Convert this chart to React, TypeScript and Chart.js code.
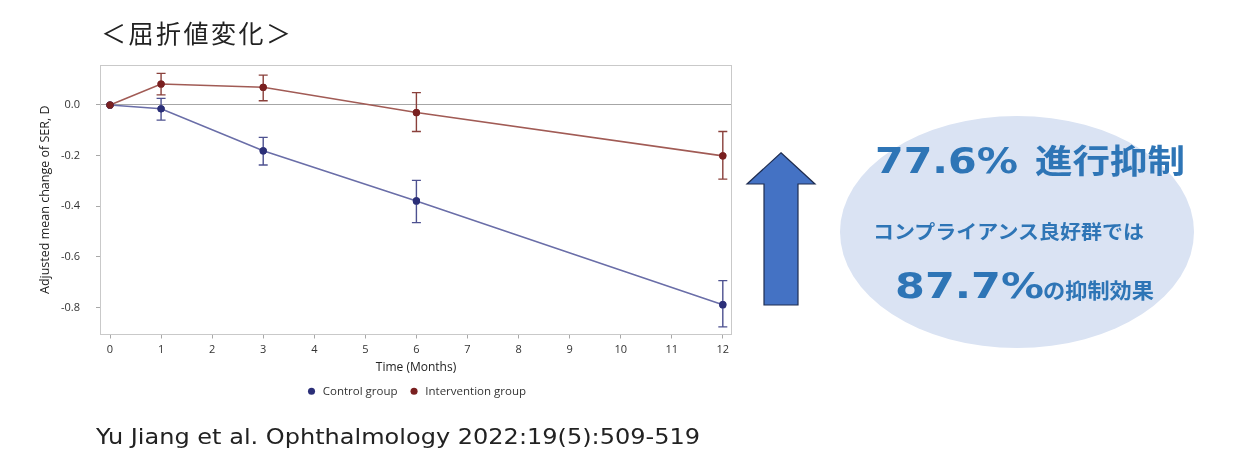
import React, { useEffect, useRef } from "react";
import { Chart, registerables } from "chart.js";

Chart.register(...registerables);

// ---- data ----
const months = [0, 1, 3, 6, 12];
const controlMean = [0, -0.015, -0.181, -0.379, -0.789];
const controlUpper = [null, 0.026, -0.128, -0.298, -0.694];
const controlLower = [null, -0.06, -0.237, -0.465, -0.877];
const interventionMean = [0, 0.083, 0.07, -0.03, -0.201];
const interventionUpper = [null, 0.125, 0.118, 0.049, -0.105];
const interventionLower = [null, 0.04, 0.017, -0.105, -0.293];
const seriesNames = ["Control group", "Intervention group"];
const xTicks = [0, 1, 2, 3, 4, 5, 6, 7, 8, 9, 10, 11, 12];
const yTicks = [-0.8, -0.6, -0.4, -0.2, 0];
const xTitle = "Time (Months)";
const yTitle = "Adjusted mean change of SER, D";
const titleText = "＜屈折値変化＞";
const citation = "Yu Jiang et al. Ophthalmology 2022:19(5):509-519";
const headlinePct = "77.6%";
const headlineText = "進行抑制";
const subline = "コンプライアンス良好群では";
const resultPct = "87.7%";
const resultText = "の抑制効果";

const errorUpper = [controlUpper, interventionUpper];
const errorLower = [controlLower, interventionLower];
const errorColors = ["#4d5190", "#8a403b"];

const errorBarPlugin = {
  id: "errorBars",
  beforeDatasetsDraw(chart: any) {
    const { ctx, chartArea } = chart;
    ctx.save();
    ctx.strokeStyle = "#c9c9c9";
    ctx.lineWidth = 1;
    ctx.strokeRect(
      Math.round(chartArea.left) + 0.5,
      Math.round(chartArea.top) + 0.5,
      Math.round(chartArea.right - chartArea.left) - 1,
      Math.round(chartArea.bottom - chartArea.top) - 1
    );
    ctx.restore();
  },
  afterDatasetsDraw(chart: any) {
    const { ctx } = chart;
    const xs = chart.scales.x;
    const ys = chart.scales.y;
    chart.data.datasets.forEach((_ds: any, di: number) => {
      const hi = errorUpper[di];
      const lo = errorLower[di];
      ctx.save();
      ctx.strokeStyle = errorColors[di];
      ctx.lineWidth = 1.4;
      months.forEach((m, i) => {
        if (hi[i] == null || lo[i] == null) return;
        const px = xs.getPixelForValue(m);
        const y1 = ys.getPixelForValue(hi[i]);
        const y2 = ys.getPixelForValue(lo[i]);
        ctx.beginPath();
        ctx.moveTo(px, y1);
        ctx.lineTo(px, y2);
        ctx.moveTo(px - 4.5, y1);
        ctx.lineTo(px + 4.5, y1);
        ctx.moveTo(px - 4.5, y2);
        ctx.lineTo(px + 4.5, y2);
        ctx.stroke();
      });
      ctx.restore();
    });
    chart.getSortedVisibleDatasetMetas().slice().reverse().forEach((meta: any) => {
      meta.data.forEach((pt: any) => pt.draw(ctx, chart.chartArea));
    });
  },
};

function ChartCanvas() {
  const ref = useRef<HTMLCanvasElement | null>(null);
  useEffect(() => {
    if (!ref.current) return;
    Chart.defaults.font.family = "'Open Sans', sans-serif";
    const chart = new Chart(ref.current, {
      type: "line",
      data: {
        datasets: [
          {
            label: seriesNames[0],
            data: months.map((m, i) => ({ x: m, y: controlMean[i] })),
            borderColor: "#6a6ea8",
            borderWidth: 1.6,
            pointRadius: 3.6,
            pointBackgroundColor: "#2b2f78",
            pointBorderColor: "#2b2f78",
            pointBorderWidth: 0,
            order: 1,
          },
          {
            label: seriesNames[1],
            data: months.map((m, i) => ({ x: m, y: interventionMean[i] })),
            borderColor: "#a15b55",
            borderWidth: 1.6,
            pointRadius: 3.6,
            pointBackgroundColor: "#7a2020",
            pointBorderColor: "#7a2020",
            pointBorderWidth: 0,
            order: 0,
          },
        ],
      },
      plugins: [errorBarPlugin],
      options: {
        animation: false,
        responsive: false,
        devicePixelRatio: 1,
        layout: { padding: { left: 0, top: 65, right: 28, bottom: 63 } },
        scales: {
          x: {
            type: "linear",
            min: -0.196,
            max: 12.18,
            afterBuildTicks: (s: any) => {
              s.ticks = xTicks.map((v) => ({ value: v }));
            },
            afterFit: (s: any) => {
              s.height = 40;
            },
            grid: {
              drawOnChartArea: false,
              drawTicks: true,
              tickLength: 4,
              tickColor: "#a8a8a8",
            },
            border: { display: false },
            ticks: {
              padding: 5,
              color: "#333",
              font: { size: 11 },
              autoSkip: false,
              maxRotation: 0,
            },
            title: {
              display: true,
              text: xTitle,
              color: "#222",
              font: { size: 12 },
              padding: { top: 0, bottom: 0 },
            },
          },
          y: {
            type: "linear",
            min: -0.907,
            max: 0.158,
            afterBuildTicks: (s: any) => {
              s.ticks = yTicks.map((v) => ({ value: v }));
            },
            afterFit: (s: any) => {
              s.width = 100;
            },
            grid: {
              color: (c: any) => (c.tick && Math.abs(c.tick.value) < 1e-9 ? "#a6a6a6" : "rgba(0,0,0,0)"),
              tickColor: "#a8a8a8",
              tickLength: 4,
              lineWidth: 1,
            },
            border: { display: false },
            ticks: {
              padding: 16,
              color: "#333",
              font: { size: 11 },
              callback: (v: any) => Number(v).toFixed(1),
            },
            title: {
              display: true,
              text: yTitle,
              color: "#222",
              font: { size: 12.5 },
              padding: { top: 38, bottom: 0 },
            },
          },
        },
        plugins: {
          legend: {
            position: "bottom",
            fullSize: false,
            labels: {
              usePointStyle: true,
              pointStyle: "circle",
              boxHeight: 5,
              boxWidth: 11,
              padding: 11,
              color: "#333",
              font: { size: 11.5 },
              sort: (a: any, b: any) => a.datasetIndex - b.datasetIndex,
            },
          },
          tooltip: { enabled: false },
        },
      } as any,
    });
    return () => chart.destroy();
  }, []);
  return (
    <canvas
      ref={ref}
      width={760}
      height={470}
      style={{ position: "absolute", left: 0, top: 0, width: 760, height: 470 }}
    />
  );
}

export default function App() {
  const blue = "#2e75b6";
  const cjk = "'Noto Sans CJK JP', sans-serif";
  const latinBold = "'DejaVu Sans', sans-serif";
  const fit = "spacingAndGlyphs";
  return (
    <div style={{ position: "absolute", left: 0, top: 0, width: 1241, height: 470, background: "#fff", overflow: "hidden" }}>
      <ChartCanvas />
      <svg
        width={1241}
        height={470}
        style={{ position: "absolute", left: 0, top: 0, pointerEvents: "none" }}
      >
        <text x={101} y={43} fontFamily={cjk} fontSize={25} fill="#222" textLength={190} lengthAdjust="spacing">
          {titleText}
        </text>
        <text x={96} y={444} fontFamily="'DejaVu Sans', sans-serif" fontSize={22} fill="#222" textLength={604} lengthAdjust={fit}>
          {citation}
        </text>
        <ellipse cx={1017} cy={232} rx={177} ry={116} fill="#dae3f3" />
        <polygon
          points="781,152.7 815,184 798,184 798,305 764,305 764,184 747,184"
          fill="#4472c4"
          stroke="#1f2d50"
          strokeWidth={1.2}
        />
        <text x={875} y={172.7} fontFamily={latinBold} fontWeight="bold" fontSize={36} fill={blue} textLength={143} lengthAdjust={fit}>
          {headlinePct}
        </text>
        <text x={1035} y={172.5} fontFamily={cjk} fontWeight="bold" fontSize={33} fill={blue} textLength={150} lengthAdjust={fit}>
          {headlineText}
        </text>
        <text x={873} y={238.5} fontFamily={cjk} fontWeight="bold" fontSize={19} fill={blue} textLength={271} lengthAdjust={fit}>
          {subline}
        </text>
        <text x={895} y={298.3} fontFamily={latinBold} fontWeight="bold" fontSize={36} fill={blue} textLength={149} lengthAdjust={fit}>
          {resultPct}
        </text>
        <text x={1043} y={298} fontFamily={cjk} fontWeight="bold" fontSize={21} fill={blue} textLength={111} lengthAdjust={fit}>
          {resultText}
        </text>
      </svg>
    </div>
  );
}
